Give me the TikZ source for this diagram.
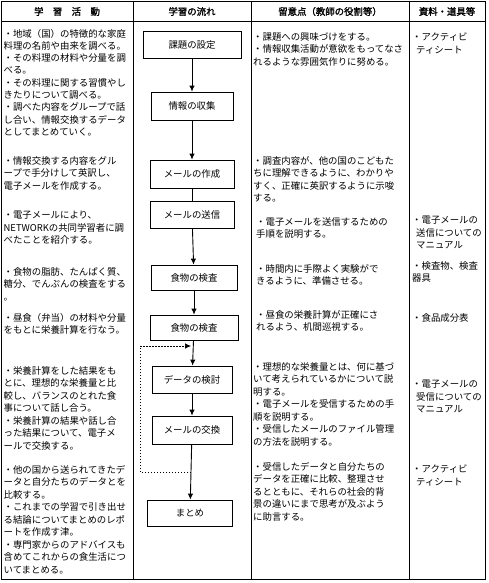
\documentclass[tikz,border=0pt]{standalone}
\usepackage{fontspec}
\usepackage{tikz}
\usetikzlibrary{arrows.meta}
\newfontfamily\jpfont{Noto Sans CJK JP}
\newfontfamily\jpbold[FakeBold=1.6]{Noto Sans CJK JP}
\tikzset{
  flstep/.style={draw=black, line width=0.8pt, minimum height=27pt,
                 inner sep=0pt, font=\jpfont\fontsize{9.4pt}{11pt}\selectfont},
  flnote/.style={anchor=north west, align=left, inner sep=0pt,
                 font=\jpfont\fontsize{9.4pt}{12.5pt}\selectfont},
  flhead/.style={inner sep=0pt, font=\jpbold\fontsize{9.4pt}{11pt}\selectfont},
  flgrid/.style={draw=black, line width=0.9pt},
  flarrow/.style={draw=black, line width=0.9pt, -{Latex[length=6pt,width=5.5pt]}},
  flline/.style={draw=black, line width=0.9pt},
  flloop/.style={draw=black, line width=0.7pt, dash pattern=on 1.5pt off 1.5pt,
                 -{Latex[length=6pt,width=5.5pt]}},
}
\newcommand{\flind}{\hspace*{4pt}}

\begin{document}
\begin{tikzpicture}[x=1pt,y=-1pt]
  \useasboundingbox (0,0) rectangle (488,583);
  % table
  \draw[flgrid] (1.5,1.5) rectangle (485.5,579.5);
  \draw[flgrid] (1.5,21.5) -- (485.5,21.5);
  \draw[flgrid] (133,1.5) -- (133,579.5);
  \draw[flgrid] (251,1.5) -- (251,579.5);
  \draw[flgrid] (409,1.5) -- (409,579.5);

  \node[flhead] (hAct) at (67,11.5) {学　習　活　動};
  \node[flhead] (hFlow) at (192,11.5) {学習の流れ};
  \node[flhead] (hNote) at (330,11.5) {留意点（教師の役割等）};
  \node[flhead] (hTool) at (447,11.5) {資料・道具等};

  % flow
  \node[flstep, minimum width=98pt] (kadai) at (192,44.5) {課題の設定};
  \node[flstep, minimum width=82pt, minimum height=28pt] (shushu) at (192,106) {情報の収集};
  \node[flstep, minimum width=84pt, minimum height=28pt] (sakusei) at (192,174) {メールの作成};
  \node[flstep, minimum width=84pt] (soshin) at (192,214.5) {メールの送信};
  \node[flstep, minimum width=86pt, minimum height=25pt] (kensa1) at (194,277.5) {食物の検査};
  \node[flstep, minimum width=88pt, minimum height=25pt] (kensa2) at (194,327.5) {食物の検査};
  \node[flstep, minimum width=80pt] (kento) at (192,379.5) {データの検討};
  \node[flstep, minimum width=80pt, minimum height=28pt] (kokan) at (192,430) {メールの交換};
  \node[flstep, minimum width=85pt, minimum height=26pt] (matome) at (190,513) {まとめ};

  \draw[flarrow] (kadai) -- (shushu);
  \draw[flarrow] (shushu) -- (sakusei);
  \draw[flline] (sakusei) -- (soshin);
  \draw[flarrow] (soshin) -- (kensa1);
  \draw[flarrow] (kensa1) -- (kensa2);
  \draw[flarrow] (kensa2) -- (kento);
  \draw[flarrow] (kento) -- (kokan);
  \draw[flarrow] (kokan) -- (matome);

  \coordinate (loopA) at (191,472);
  \coordinate (loopB) at (191,346);
  \draw[flloop] (loopA) -- ++(-51,0) |- (loopB);

  % activities
  \node[flnote, font=\jpfont\fontsize{9.4pt}{12.2pt}\selectfont] (act1) at (3.5,29) {・地域（国）の特徴的な家庭\\料理の名前や由来を調べる。\\・その料理の材料や分量を調\\べる。\\・その料理に関する習慣やし\\きたりについて調べる。};
  \node[flnote] (act2) at (3.5,102.5) {・調べた内容をグループで話\\し合い、情報交換するデータ\\としてまとめていく。};
  \node[flnote] (act3) at (3.5,156) {・情報交換する内容をグル\\ープで手分けして英訳し、\\電子メールを作成する。};
  \node[flnote] (act4) at (3.5,211) {・電子メールにより、\\NETWORKの共同学習者に調\\べたことを紹介する。};
  \node[flnote] (act5) at (3.5,267) {・食物の脂肪、たんぱく質、\\糖分、でんぷんの検査をする\\。};
  \node[flnote] (act6) at (3.5,313) {・昼食（弁当）の材料や分量\\をもとに栄養計算を行なう。};
  \node[flnote] (act7) at (3.5,366) {・栄養計算をした結果をも\\とに、理想的な栄養量と比\\較し、バランスのとれた食\\事について話し合う。\\・栄養計算の結果や話し合\\った結果について、電子メ\\ールで交換する。};
  \node[flnote] (act8) at (3.5,465) {・他の国から送られてきたデ\\ータと自分たちのデータとを\\比較する。\\・これまでの学習で引き出せ\\る結論についてまとめのレポ\\ートを作成す津。\\・専門家からのアドバイスも\\含めてこれからの食生活につ\\いてまとめる。};

  % teacher notes
  \node[flnote] (note1) at (253,32) {・課題への興味づけをする。\\・情報収集活動が意欲をもってなさ\\れるような雰囲気作りに努める。};
  \node[flnote] (note2) at (253,156) {・調査内容が、他の国のこどもた\\ちに理解できるように、わかりや\\すく、正確に英訳するように示唆\\する。};
  \node[flnote] (note3) at (256,217) {・電子メールを送信するための\\手順を説明する。};
  \node[flnote] (note4) at (256,264) {・時間内に手際よく実験がで\\きるように、準備させる。};
  \node[flnote] (note5) at (256,310) {・昼食の栄養計算が正確にさ\\れるよう、机間巡視する。};
  \node[flnote] (note6) at (253,362) {・理想的な栄養量とは、何に基づ\\いて考えられているかについて説\\明する。\\・電子メールを受信するための手\\順を説明する。\\・受信したメールのファイル管理\\の方法を説明する。};
  \node[flnote] (note7) at (253,462) {・受信したデータと自分たちの\\データを正確に比較、整理させ\\るとともに、それらの社会的背\\景の違いにまで思考が及ぶよう\\に助言する。};

  % materials
  \node[flnote] (tool1) at (412,33) {・アクティビ\\\flind ティシート};
  \node[flnote] (tool2) at (412,216) {・電子メールの\\\flind 送信についての\\\flind マニュアル};
  \node[flnote] (tool3) at (412,261) {・検査物、検査\\器具};
  \node[flnote] (tool4) at (412,313) {・食品成分表};
  \node[flnote] (tool5) at (412,380) {・電子メールの\\\flind 受信についての\\\flind マニュアル};
  \node[flnote] (tool6) at (412,465) {・アクティビ\\\flind ティシート};
\end{tikzpicture}
\end{document}
